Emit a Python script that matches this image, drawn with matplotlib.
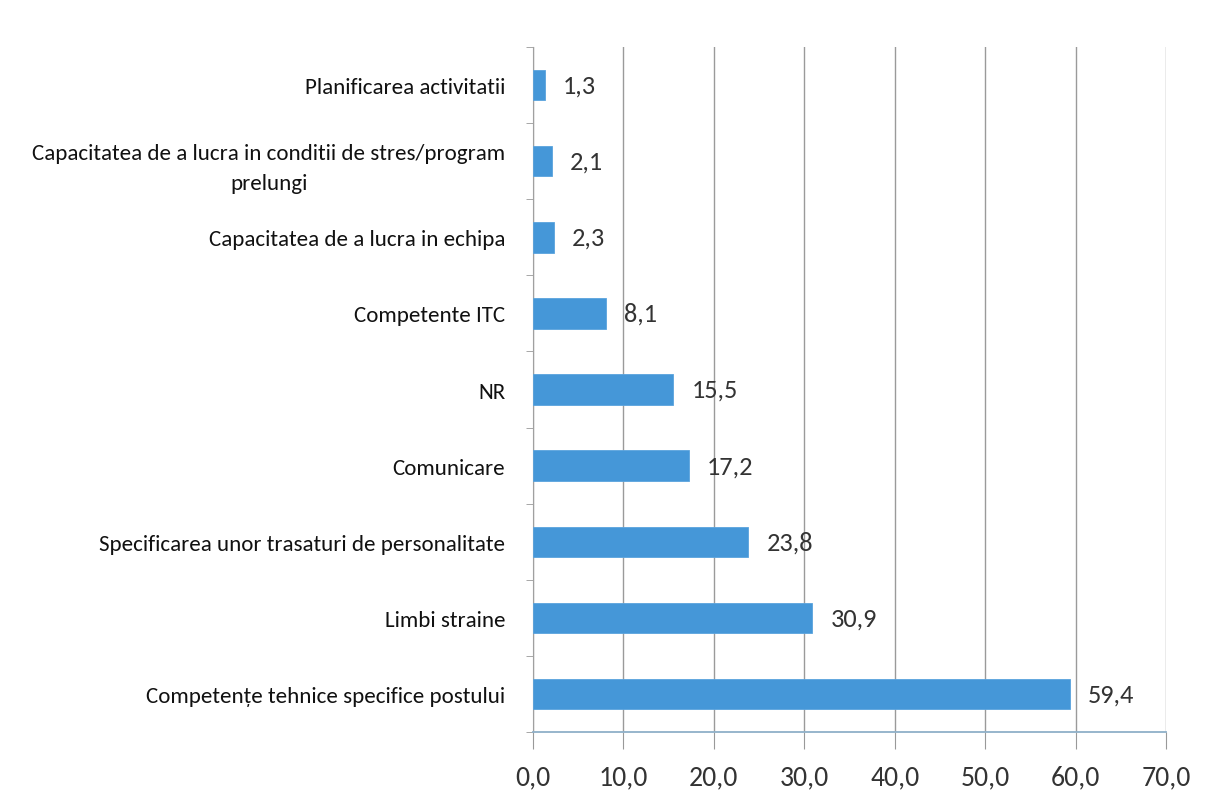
import numpy as np
import matplotlib
matplotlib.use("Agg")
import matplotlib.pyplot as plt

plt.rcParams['font.family'] = ['Carlito', 'DejaVu Sans']

# Data (top to bottom as in the chart)
categories = [
    "Planificarea activitatii",
    "Capacitatea de a lucra in conditii de stres/program\nprelungi",
    "Capacitatea de a lucra in echipa",
    "Competente ITC",
    "NR",
    "Comunicare",
    "Specificarea unor trasaturi de personalitate",
    "Limbi straine",
    "Competențe tehnice specifice postului",
]
values = [1.3, 2.1, 2.3, 8.1, 15.5, 17.2, 23.8, 30.9, 59.4]
xticks = [0, 10, 20, 30, 40, 50, 60, 70]

fig = plt.figure(figsize=(12.09, 8.04), dpi=100)
ax = fig.add_axes([0.4409, 0.0883, 0.5236, 0.852])

y = np.arange(len(categories))
bars = ax.barh(y, values, height=0.4, color='#4597d8', edgecolor='#5aa3dd', linewidth=0.6, zorder=3)
ax.bar_label(bars, labels=[f"{v:.1f}".replace('.', ',') for v in values],
             padding=13, fontsize=19, color='#333333')

ax.set_ylim(len(categories) - 0.5, -0.5)
ax.set_xlim(0, 70)
ax.set_xticks(xticks)
ax.set_xticklabels([f"{t:.1f}".replace('.', ',') for t in xticks], fontsize=20, color='#333333')
ax.set_yticks(y)
ax.set_yticklabels(categories, fontsize=16.6, color='#111111', multialignment='center', linespacing=1.6)
ax.set_yticks(np.arange(len(categories) + 1) - 0.5, minor=True)

ax.tick_params(axis='y', which='major', length=0, pad=20)
ax.tick_params(axis='y', which='minor', length=5, color='#999999', direction='out')
ax.tick_params(axis='x', length=12, color='#999999', pad=11)

ax.grid(axis='x', color='#9a9a9a', linewidth=1.0, zorder=0)
for s in ['top', 'right']:
    ax.spines[s].set_visible(False)
ax.spines['left'].set_color('#a0a0a0')
ax.spines['bottom'].set_color('#8fb0c8')
ax.spines['bottom'].set_linewidth(1.3)

fig.savefig("out.png", dpi=100, facecolor='white')
